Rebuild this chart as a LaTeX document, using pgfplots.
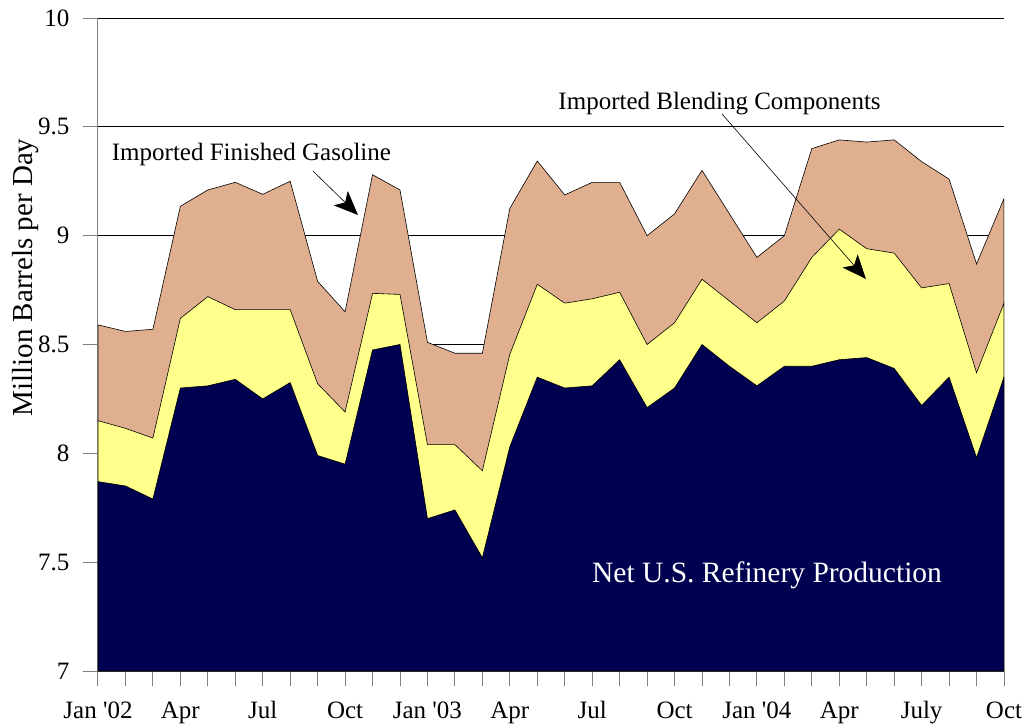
\documentclass[border=0pt]{standalone}
\usepackage{fontspec}
\setmainfont{Liberation Serif}
\usepackage{pgfplots}
\usepackage{pgfplotstable}
\pgfplotsset{compat=1.18}
\usetikzlibrary{arrows.meta}

\definecolor{navyfill}{RGB}{0,0,80}
\definecolor{yellowfill}{RGB}{255,255,140}
\definecolor{tanfill}{RGB}{224,175,144}
\definecolor{axgray}{RGB}{128,128,128}

% month index (0 = Jan 2002), cumulative tops of the three stacked areas
\pgfplotstableread{
m  total  blend  net
0  8.59   8.15   7.87
1  8.56   8.115  7.85
2  8.57   8.07   7.79
3  9.135  8.62   8.30
4  9.21   8.72   8.31
5  9.245  8.66   8.34
6  9.19   8.66   8.25
7  9.25   8.66   8.325
8  8.79   8.32   7.99
9  8.65   8.19   7.95
10 9.28   8.735  8.475
11 9.21   8.73   8.50
12 8.51   8.04   7.70
13 8.46   8.04   7.74
14 8.46   7.92   7.52
15 9.125  8.455  8.03
16 9.343  8.777  8.35
17 9.187  8.69   8.30
18 9.245  8.71   8.31
19 9.245  8.74   8.43
20 9.00   8.50   8.21
21 9.10   8.60   8.30
22 9.30   8.80   8.50
23 9.10   8.70   8.40
24 8.90   8.60   8.31
25 9.00   8.70   8.40
26 9.40   8.90   8.40
27 9.44   9.03   8.43
28 9.43   8.94   8.44
29 9.44   8.92   8.39
30 9.34   8.76   8.22
31 9.26   8.78   8.35
32 8.87   8.37   7.98
33 9.17   8.69   8.35
}\gasdata

\begin{document}
\begin{tikzpicture}
\begin{axis}[
    scale only axis,
    width=906bp, height=653bp,
    xmin=0, xmax=33, ymin=7, ymax=10,
    axis lines*=left,
    axis line style={axgray, line width=1bp},
    xtick={0,3,...,33},
    xticklabels={Jan \textquotesingle02, Apr, Jul, Oct, Jan \textquotesingle03, Apr, Jul, Oct, Jan \textquotesingle04, Apr, July, Oct},
    minor xtick={0,...,33},
    ytick={7,7.5,...,10},
    tick align=outside,
    major tick length=15bp,
    minor tick length=15bp,
    tick style={axgray, line width=1bp},
    ymajorgrids,
    grid style={black, line width=0.8bp},
    tick label style={font=\fontsize{25bp}{27bp}\selectfont},
    xticklabel style={yshift=-12bp},
    yticklabel style={xshift=-10bp},
    /pgf/number format/assume math mode=true,
    ylabel={Million Barrels per Day},
    ylabel style={font=\fontsize{29bp}{31bp}\selectfont, at={(axis description cs:-0.0795,0.6026)}, anchor=center},
]
\addplot[fill=tanfill, draw=black, line width=0.6bp] table[x=m, y=total] {\gasdata} \closedcycle;
\addplot[fill=yellowfill, draw=black, line width=0.6bp] table[x=m, y=blend] {\gasdata} \closedcycle;
\addplot[fill=navyfill, draw=black, line width=0.6bp] table[x=m, y=net] {\gasdata} \closedcycle;

\node[font=\fontsize{25bp}{27bp}\selectfont] at (axis cs:5.59,9.371) {Imported Finished Gasoline};
\node[font=\fontsize{25bp}{27bp}\selectfont] at (axis cs:22.64,9.609) {Imported Blending Components};
\node[white, font=\fontsize{29.5bp}{31bp}\selectfont] at (axis cs:24.37,7.441) {Net U.S. Refinery Production};
\draw[-{Stealth[length=24bp, width=20bp, inset=6bp]}, line width=0.6bp] (axis cs:7.83,9.297) -- (axis cs:9.47,9.095);
\draw[-{Stealth[length=24bp, width=20bp, inset=6bp]}, line width=0.6bp] (axis cs:22.73,9.559) -- (axis cs:27.97,8.801);
\coordinate (O) at (rel axis cs:0,0);
\end{axis}
\path[use as bounding box] ([shift={(-98bp,-52bp)}]O) rectangle ++(1026bp,723bp);
\end{tikzpicture}
\end{document}
